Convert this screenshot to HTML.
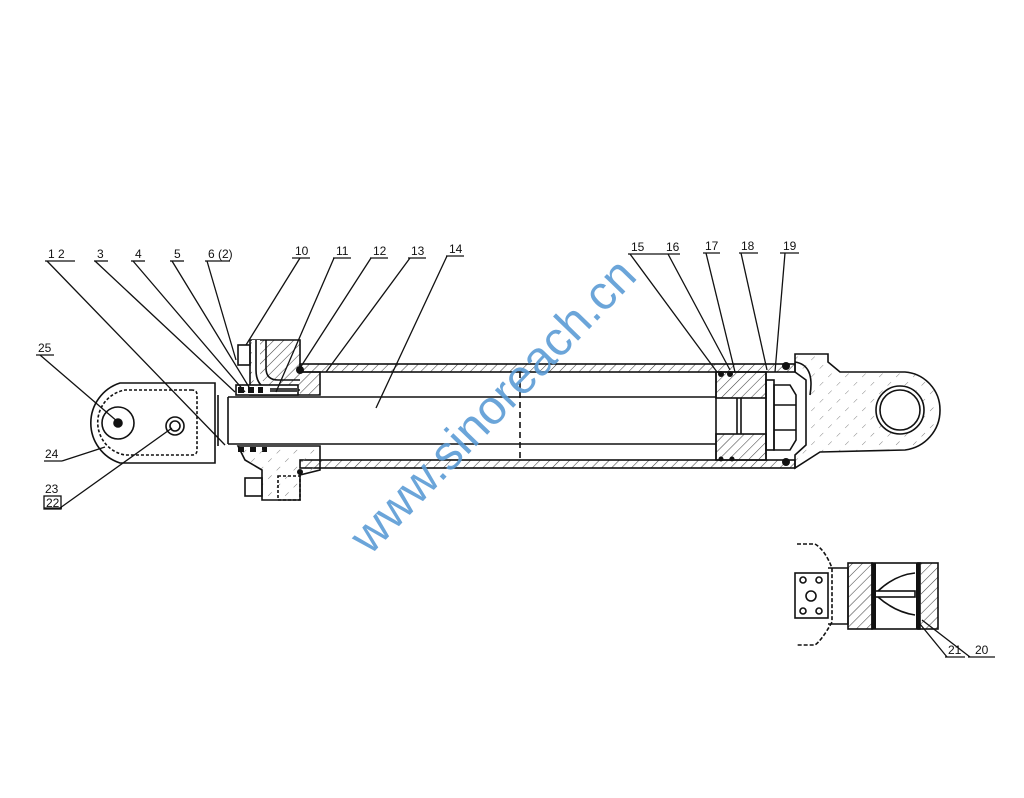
<!DOCTYPE html>
<html><head><meta charset="utf-8"><style>
html,body{margin:0;padding:0;background:#fff;}
svg{display:block}
text{font-family:"Liberation Sans",sans-serif;font-size:12px;fill:#111}
</style></head><body>
<svg width="1024" height="798" viewBox="0 0 1024 798" xmlns="http://www.w3.org/2000/svg">
<defs>
<pattern id="h" width="7" height="7" patternUnits="userSpaceOnUse" patternTransform="rotate(45)">
<line x1="0" y1="0" x2="0" y2="7" stroke="#444" stroke-width="1.1"/></pattern>
<pattern id="hd" width="12" height="12" patternUnits="userSpaceOnUse" patternTransform="rotate(45)">
<line x1="0" y1="0" x2="0" y2="5" stroke="#777" stroke-width="0.9"/></pattern>
</defs>
<rect width="1024" height="798" fill="#fff"/>
<g stroke="#111" stroke-width="1.6" fill="none">
<rect x="300" y="364" width="495" height="8" fill="url(#h)"/>
<rect x="300" y="460" width="495" height="8" fill="url(#h)"/>
<line x1="228" y1="397" x2="716" y2="397"/>
<line x1="228" y1="444" x2="716" y2="444"/>
<line x1="228" y1="397" x2="228" y2="444"/>
<line x1="218" y1="395" x2="218" y2="446"/>
<line x1="520" y1="372" x2="520" y2="460" stroke-dasharray="6 4"/>
<path d="M215 383 L120 383 A42 42 0 0 0 120 463 L215 463 Z"/>
<path d="M192 390 L125 390 A33 33 0 0 0 125 455 L192 455 Q197 455 197 450 L197 395 Q197 390 192 390" stroke-dasharray="3 2"/>
<circle cx="118" cy="423" r="16"/>
<circle cx="118" cy="423" r="4" fill="#111"/>
<circle cx="175" cy="426" r="9"/>
<circle cx="175" cy="426" r="5"/>
<rect x="238" y="345" width="12" height="20" />
<path d="M250 340 L300 340 L300 372 L320 372 L320 395 L250 395 Z" fill="url(#h)"/>
<path d="M256 340 L256 370 Q256 390 276 390 L300 390" stroke-width="8" stroke="#fff"/>
<path d="M256 340 L256 370 Q256 390 276 390 L300 390"/>
<path d="M266 340 L266 368 Q266 380 278 380 L300 380"/>
<rect x="236" y="385" width="62" height="10" fill="#fff"/>
<g fill="#111" stroke="none"><rect x="238" y="387" width="6" height="6"/><rect x="248" y="387" width="6" height="6"/><rect x="258" y="387" width="5" height="6"/><rect x="270" y="388" width="28" height="4" fill="#444"/><circle cx="300" cy="370" r="4"/>
<rect x="238" y="447" width="6" height="5"/><rect x="250" y="447" width="6" height="5"/><rect x="262" y="447" width="5" height="5"/><circle cx="300" cy="472" r="3"/></g>
<path d="M238 446 L320 446 L320 470 L300 475 L300 500 L262 500 L262 470 L245 460 Z" fill="url(#hd)"/>
<rect x="245" y="478" width="17" height="18"/>
<rect x="278" y="476" width="22" height="24" stroke-dasharray="3 2"/>
<rect x="716" y="372" width="50" height="26" fill="url(#h)"/>
<rect x="716" y="434" width="50" height="26" fill="url(#h)"/>
<line x1="716" y1="372" x2="716" y2="460"/>
<line x1="766" y1="372" x2="766" y2="460"/>
<line x1="737" y1="398" x2="737" y2="434"/>
<line x1="741" y1="398" x2="741" y2="434"/>
<rect x="766" y="380" width="8" height="70"/>
<path d="M774 385 L790 385 L796 395 L796 440 L790 450 L774 450 Z"/>
<line x1="774" y1="405" x2="796" y2="405"/><line x1="774" y1="430" x2="796" y2="430"/>
<g fill="#111" stroke="none"><circle cx="721" cy="374" r="3"/><circle cx="730" cy="374" r="3"/><circle cx="786" cy="366" r="4"/><circle cx="786" cy="462" r="4"/><circle cx="721" cy="459" r="2.5"/><circle cx="732" cy="459" r="2.5"/></g>
<path d="M795 372 L795 354 L828 354 L828 362 L840 372 L905 372 A38 38 0 0 1 940 410 A40 40 0 0 1 905 450 L820 452 L795 468 L795 455 L806 445 L806 380 Z" fill="url(#hd)"/>
<path d="M795 362 Q815 365 810 395" />
<circle cx="900" cy="410" r="24" fill="#fff"/>
<circle cx="900" cy="410" r="20"/>
<path d="M797 544 L815 544 Q825 550 832 568 L832 622 Q822 640 815 645 L797 645" stroke-dasharray="4 2"/>
<rect x="795" y="573" width="33" height="45"/>
<g fill="none"><circle cx="803" cy="580" r="3"/><circle cx="819" cy="580" r="3"/><circle cx="803" cy="611" r="3"/><circle cx="819" cy="611" r="3"/><circle cx="811" cy="596" r="5"/></g>
<path d="M828 568 L848 568 L848 624 L828 624"/>
<rect x="848" y="563" width="24" height="66" fill="url(#h)"/>
<rect x="872" y="563" width="48" height="66"/>
<rect x="918" y="563" width="20" height="66" fill="url(#h)"/>
<rect x="875" y="591" width="40" height="6"/>
<path d="M878 591 Q895 575 915 573 M878 597 Q895 612 915 615"/>
<g fill="#111" stroke="none"><rect x="872" y="563" width="4" height="66"/><rect x="916" y="563" width="4" height="66"/></g>
</g>
<g stroke="#111" stroke-width="1.3" fill="none">
<line x1="45" y1="261" x2="75" y2="261"/><line x1="47" y1="261" x2="225" y2="445"/>
<line x1="94" y1="261" x2="108" y2="261"/><line x1="95" y1="261" x2="235" y2="392"/>
<line x1="131" y1="261" x2="145" y2="261"/><line x1="133" y1="261" x2="245" y2="392"/>
<line x1="170" y1="261" x2="184" y2="261"/><line x1="172" y1="261" x2="252" y2="392"/>
<line x1="205" y1="261" x2="230" y2="261"/><line x1="207" y1="261" x2="236" y2="360"/>
<line x1="292" y1="258" x2="310" y2="258"/><line x1="300" y1="258" x2="246" y2="345"/>
<line x1="333" y1="258" x2="351" y2="258"/><line x1="334" y1="258" x2="276" y2="392"/>
<line x1="370" y1="258" x2="388" y2="258"/><line x1="371" y1="258" x2="300" y2="368"/>
<line x1="408" y1="258" x2="426" y2="258"/><line x1="410" y1="258" x2="326" y2="372"/>
<line x1="446" y1="256" x2="464" y2="256"/><line x1="447" y1="256" x2="376" y2="408"/>
<line x1="36" y1="355" x2="54" y2="355"/><line x1="40" y1="355" x2="118" y2="422"/>
<line x1="44" y1="461" x2="62" y2="461"/><line x1="62" y1="461" x2="105" y2="447"/>
<line x1="44" y1="508" x2="62" y2="508"/><line x1="60" y1="508" x2="172" y2="428"/>
<rect x="44" y="496" width="17" height="13"/>
<line x1="628" y1="254" x2="680" y2="254"/>
<line x1="630" y1="254" x2="717" y2="372"/><line x1="668" y1="254" x2="730" y2="370"/>
<line x1="703" y1="253" x2="720" y2="253"/><line x1="706" y1="253" x2="735" y2="372"/>
<line x1="739" y1="253" x2="758" y2="253"/><line x1="741" y1="253" x2="767" y2="370"/>
<line x1="780" y1="253" x2="799" y2="253"/><line x1="785" y1="253" x2="775" y2="372"/>
<line x1="945" y1="657" x2="965" y2="657"/><line x1="968" y1="657" x2="995" y2="657"/>
<line x1="947" y1="657" x2="920" y2="624"/><line x1="970" y1="657" x2="922" y2="620"/>
</g>
<g>
<text x="48" y="258">1 2</text><text x="97" y="258">3</text><text x="135" y="258">4</text>
<text x="174" y="258">5</text><text x="208" y="258">6 (2)</text><text x="295" y="255">10</text>
<text x="336" y="255">11</text><text x="373" y="255">12</text><text x="411" y="255">13</text>
<text x="449" y="253">14</text><text x="38" y="352">25</text><text x="45" y="458">24</text>
<text x="45" y="493">23</text><text x="46" y="507">22</text>
<text x="631" y="251">15</text><text x="666" y="251">16</text><text x="705" y="250">17</text>
<text x="741" y="250">18</text><text x="783" y="250">19</text>
<text x="948" y="654">21</text><text x="975" y="654">20</text>
</g>
<text x="0" y="0" transform="translate(370,556) rotate(-46)" style="font-size:48px;fill:#5b9bd5;fill-opacity:0.9;font-family:'Liberation Sans',sans-serif">www.sinoreach.cn</text>
</svg>
</body></html>
